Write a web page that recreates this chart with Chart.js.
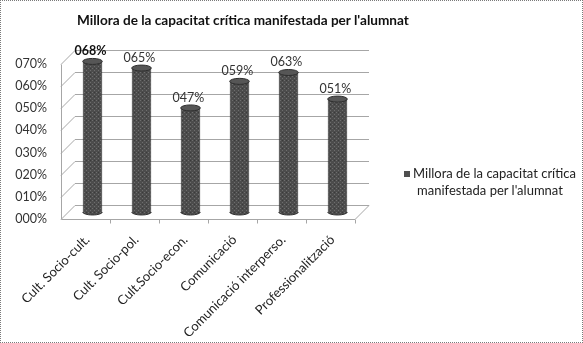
<!DOCTYPE html>
<html>
<head>
<meta charset="utf-8">
<script src="https://cdn.jsdelivr.net/npm/chart.js@4.4.1/dist/chart.umd.min.js"></script>
<style>
  body { margin: 0; background: #fff; }
  #wrap { position: relative; width: 583px; height: 343px; font-family: Lato, "Open Sans", sans-serif; }
  #frame { position: absolute; left: 0; top: 0; width: 583px; height: 343px; box-sizing: border-box; border: 1px dotted #7a7a7a; pointer-events: none; }
  #title { position: absolute; left: 77px; top: 12px; font-size: 13.6px; font-weight: bold; color: #111; white-space: nowrap; }
  #legend { position: absolute; left: 399px; top: 165px; width: 182px; font-size: 13px; line-height: 17px; color: #222; text-align: center; }
  #legend .box { display: inline-block; width: 6px; height: 6px; background: #4f4f4f; margin-right: 3px; vertical-align: 1px; }
</style>
</head>
<body>
<div id="wrap">
  <canvas id="chart" width="583" height="343"></canvas>
  <div id="title"></div>
  <div id="legend"></div>
  <div id="frame"></div>
</div>
<script>
// Chart data
const chartTitle = "Millora de la capacitat crítica manifestada per l'alumnat";
const seriesName = ["Millora de la capacitat crítica", "manifestada per l'alumnat"];
const categories = ['Cult. Socio-cult.', 'Cult. Socio-pol.', 'Cult.Socio-econ.', 'Comunicació', 'Comunicació interperso.', 'Professionalització'];
const values = [68, 65, 47, 59, 63, 51];
const yTicks = [0, 10, 20, 30, 40, 50, 60, 70];

const fmt = v => String(v).padStart(3, '0') + '%';
const depth = 7; // fake 3D offset

document.getElementById('title').textContent = chartTitle;
document.getElementById('legend').innerHTML =
    '<span class="box"></span>' + seriesName[0] + '<br>' + seriesName[1];

// Dithered grey fill like the original cylinders
function makePattern() {
    const c = document.createElement('canvas');
    c.width = 4; c.height = 4;
    const g = c.getContext('2d');
    g.fillStyle = '#4c4c4c';
    g.fillRect(0, 0, 4, 4);
    g.fillStyle = '#6e6e6e';
    g.fillRect(0, 0, 1, 1);
    g.fillRect(2, 2, 1, 1);
    g.fillStyle = '#3a3a3a';
    g.fillRect(2, 0, 1, 1);
    return g.createPattern(c, 'repeat');
}
const barFill = makePattern();

// Walls, floor and back grid
const wallsPlugin = {
    id: 'walls',
    beforeDatasetsDraw(chart) {
        const ctx = chart.ctx;
        const a = chart.chartArea;
        const y = chart.scales.y;
        ctx.save();
        ctx.lineWidth = 1;
        ctx.strokeStyle = '#a6a6a6';
        yTicks.forEach(v => {
            const py = Math.round(y.getPixelForValue(v)) + 0.5;
            ctx.beginPath();
            ctx.moveTo(a.left - depth, py + depth);
            ctx.lineTo(a.left + depth, py - depth);
            ctx.lineTo(a.right + depth, py - depth);
            ctx.stroke();
        });
        const y0 = Math.round(y.getPixelForValue(0)) + 0.5;
        const yTop = Math.round(y.getPixelForValue(yTicks[yTicks.length - 1])) + 0.5;
        ctx.beginPath();
        ctx.moveTo(a.left - depth + 0.5, yTop + depth);
        ctx.lineTo(a.left - depth + 0.5, y0 + depth);
        ctx.lineTo(a.right - depth, y0 + depth);
        ctx.lineTo(a.right + depth, y0 - depth);
        ctx.stroke();
        // category separators on the front floor edge
        const step = (a.right - a.left) / categories.length;
        for (let i = 1; i <= categories.length; i++) {
            const px = Math.round(a.left + step * i - depth) + 0.5;
            ctx.beginPath();
            ctx.moveTo(px, y0 + depth);
            ctx.lineTo(px, y0 + depth + 4);
            ctx.stroke();
        }
        ctx.restore();
    }
};

// Cylinder caps and value labels
const cylinderPlugin = {
    id: 'cylinders',
    afterDatasetsDraw(chart) {
        const ctx = chart.ctx;
        const meta = chart.getDatasetMeta(0);
        ctx.save();
        meta.data.forEach((bar, i) => {
            const rx = bar.width / 2;
            // bottom round
            ctx.beginPath();
            ctx.ellipse(bar.x, bar.base, rx, 3, 0, 0, Math.PI);
            ctx.fillStyle = barFill;
            ctx.fill();
            ctx.strokeStyle = '#2e2e2e';
            ctx.stroke();
            // top cap
            ctx.beginPath();
            ctx.ellipse(bar.x, bar.y, rx, 3, 0, 0, Math.PI * 2);
            ctx.fillStyle = '#565656';
            ctx.fill();
            ctx.strokeStyle = '#2e2e2e';
            ctx.stroke();
            // value label
            ctx.font = (i === 0 ? 'bold ' : '') + '12.5px Lato, "Open Sans", sans-serif';
            ctx.fillStyle = i === 0 ? '#111' : '#333';
            ctx.textAlign = 'center';
            ctx.textBaseline = 'bottom';
            ctx.fillText(fmt(values[i]), bar.x - 2, bar.y - 4);
        });
        ctx.restore();
    }
};

new Chart(document.getElementById('chart'), {
    type: 'bar',
    data: {
        labels: categories,
        datasets: [{
            label: seriesName.join(' '),
            data: values,
            backgroundColor: barFill,
            borderColor: '#2e2e2e',
            borderWidth: { left: 1, right: 1, top: 0, bottom: 0 },
            categoryPercentage: 1,
            barPercentage: 0.4
        }]
    },
    options: {
        responsive: false,
        animation: false,
        layout: { padding: { left: 0, right: 221, top: 57, bottom: 0 } },
        plugins: {
            legend: { display: false },
            tooltip: { enabled: false }
        },
        scales: {
            x: {
                grid: { display: false, drawTicks: false },
                border: { display: false },
                ticks: {
                    minRotation: 45,
                    maxRotation: 45,
                    padding: 20,
                    labelOffset: -5,
                    color: '#222',
                    font: { family: 'Lato', size: 13 }
                },
                afterFit: s => { s.height = 131; }
            },
            y: {
                min: 0,
                max: 70,
                grid: { display: false, drawTicks: false },
                border: { display: false },
                ticks: {
                    stepSize: 10,
                    padding: 21,
                    labelOffset: depth,
                    color: '#333',
                    font: { family: 'Lato', size: 12.5 },
                    callback: v => fmt(v)
                },
                afterFit: s => { s.width = 68; }
            }
        }
    },
    plugins: [wallsPlugin, cylinderPlugin]
});
</script>
</body>
</html>
